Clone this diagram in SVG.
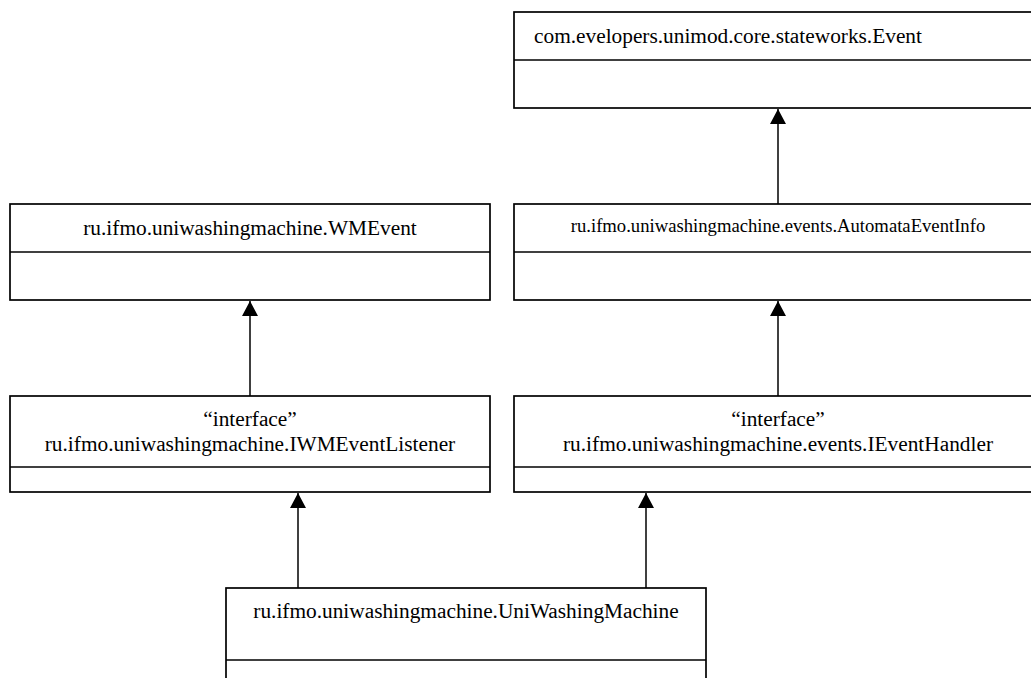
<svg xmlns="http://www.w3.org/2000/svg" width="1031" height="678" viewBox="0 0 1031 678">
<style>
.box{fill:#fff;stroke:#000;stroke-width:1.7}
.div{stroke:#000;stroke-width:1.7}
.t{font-family:"Liberation Serif","Times New Roman",serif;font-size:21.33px;fill:#000}
.c{text-anchor:middle}
.s{font-size:18.67px}
.edge{stroke:#000;stroke-width:1.5;fill:none;marker-end:url(#tri)}
</style>
<defs>
<marker id="tri" viewBox="0 0 15 16" refX="15" refY="8" markerWidth="15" markerHeight="16" markerUnits="userSpaceOnUse" orient="auto">
<path d="M0,0 L15,8 L0,16 Z" fill="#000"/>
</marker>
</defs>
<rect width="1031" height="678" fill="#fff"/>
<g id="event">
<rect class="box" x="514" y="12" width="528" height="96"/>
<line class="div" x1="514" y1="60" x2="1042" y2="60"/>
<text class="t" x="534" y="43">com.evelopers.unimod.core.stateworks.Event</text>
</g>
<g id="automataEventInfo">
<rect class="box" x="514" y="204" width="528" height="96"/>
<line class="div" x1="514" y1="252" x2="1042" y2="252"/>
<text class="t c s" x="778" y="232">ru.ifmo.uniwashingmachine.events.AutomataEventInfo</text>
</g>
<g id="wmEvent">
<rect class="box" x="10" y="204" width="480" height="96"/>
<line class="div" x1="10" y1="252" x2="490" y2="252"/>
<text class="t c" x="250" y="235">ru.ifmo.uniwashingmachine.WMEvent</text>
</g>
<g id="iwmEventListener">
<rect class="box" x="10" y="396" width="480" height="96"/>
<line class="div" x1="10" y1="467" x2="490" y2="467"/>
<text class="t c" x="250" y="426">“interface”</text>
<text class="t c" x="250" y="451">ru.ifmo.uniwashingmachine.IWMEventListener</text>
</g>
<g id="iEventHandler">
<rect class="box" x="514" y="396" width="528" height="96"/>
<line class="div" x1="514" y1="467" x2="1042" y2="467"/>
<text class="t c" x="778" y="426">“interface”</text>
<text class="t c" x="778" y="451">ru.ifmo.uniwashingmachine.events.IEventHandler</text>
</g>
<g id="uniWashingMachine">
<rect class="box" x="226" y="588" width="480" height="110"/>
<line class="div" x1="226" y1="660" x2="706" y2="660"/>
<text class="t c" x="466" y="618">ru.ifmo.uniwashingmachine.UniWashingMachine</text>
</g>
<g id="connectors">
<line class="edge" x1="778" y1="204" x2="778" y2="109"/>
<line class="edge" x1="250" y1="396" x2="250" y2="301"/>
<line class="edge" x1="778" y1="396" x2="778" y2="301"/>
<line class="edge" x1="298" y1="588" x2="298" y2="493"/>
<line class="edge" x1="646" y1="588" x2="646" y2="493"/>
</g>
</svg>
